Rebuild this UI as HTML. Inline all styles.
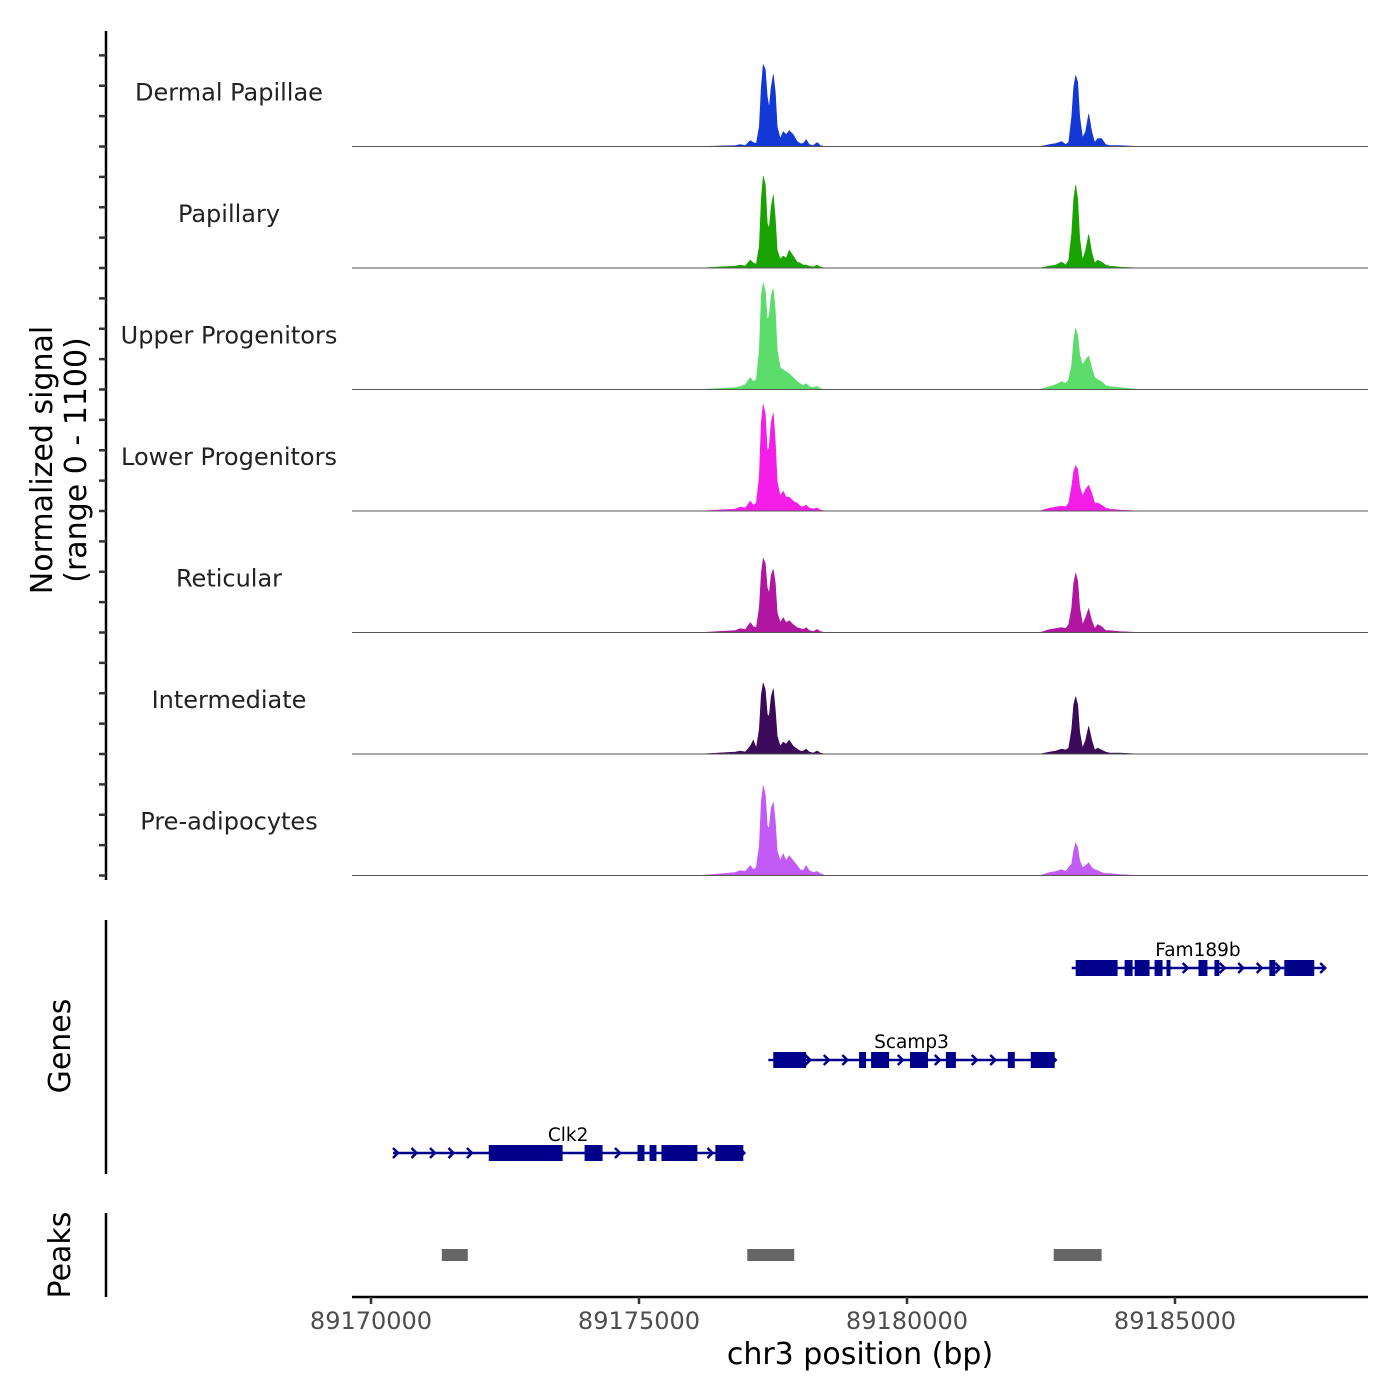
<!DOCTYPE html>
<html><head><meta charset="utf-8"><style>
html,body{margin:0;padding:0;background:#fff}
svg{display:block;font-family:"DejaVu Sans","Liberation Sans",sans-serif}
</style></head><body>
<svg id="chart" width="1400" height="1400" viewBox="0 0 1400 1400"></svg>
<script>
// ---- data ----
const trackNames = ["Dermal Papillae","Papillary","Upper Progenitors","Lower Progenitors","Reticular","Intermediate","Pre-adipocytes"];
const trackColors = ["#1238d6","#19a300","#5cdc6a","#f41ee8","#b0169f","#3b0a5a","#c25af5"];
const signalPos = [89176145,89176797,89176890,89176983,89177076,89177132,89177188,89177244,89177281,89177318,89177356,89177393,89177430,89177467,89177505,89177542,89177579,89177635,89177691,89177747,89177803,89177877,89177952,89178007,89178063,89178119,89178175,89178250,89178324,89178380,89178473,89178939,
89182477,89182663,89182775,89182886,89182961,89183017,89183073,89183110,89183147,89183184,89183222,89183277,89183333,89183389,89183445,89183501,89183557,89183631,89183706,89183780,89183967,89184339];
const sigDermal = [0,1,2,1,6,4,3,20,60,83,78,50,39,60,73,55,20,8,15,12,16,12,5,3,3,7,2,1,4,1,0,0, 0,2,3,5,2,4,30,60,72,65,30,9,15,33,15,4,8,8,2,1,1,0];
const sigPapillary = [0,2,3,2,8,5,4,22,70,93,85,45,40,62,74,50,18,9,12,10,18,12,6,5,3,3,2,1,3,1,0,0, 0,2,3,6,3,8,35,70,84,70,30,8,18,34,16,5,8,6,3,2,1,0];
const sigUpper = [0,2,3,5,12,8,10,40,95,108,100,70,75,95,102,80,40,22,20,18,16,12,8,6,4,6,3,2,3,1,0,0, 0,3,5,8,6,10,25,50,62,55,35,25,30,34,22,12,10,8,4,3,2,0];
const sigLower = [0,2,4,3,10,6,8,35,90,108,98,60,65,90,99,70,30,15,20,14,14,10,8,5,4,6,3,2,3,1,0,0, 0,3,4,5,4,8,25,40,46,42,25,15,22,26,18,8,8,6,3,2,1,0];
const sigReticular = [0,2,4,3,10,6,5,25,60,75,70,45,40,58,64,50,20,10,15,10,12,8,5,4,3,5,2,1,3,1,0,0, 0,3,4,5,4,8,25,50,60,52,25,8,15,24,12,4,8,6,2,2,1,0];
const sigIntermediate = [0,2,3,2,8,14,6,25,60,72,65,40,38,58,66,45,18,8,12,10,14,8,5,3,3,5,2,1,3,1,0,0, 0,2,3,5,4,6,25,50,58,50,22,6,14,28,14,4,6,4,2,1,1,0];
const sigPreadipo = [0,3,5,4,10,6,8,30,75,91,82,50,48,68,74,55,25,15,22,15,20,15,10,6,5,10,5,3,4,2,0,0, 0,3,4,6,4,8,12,25,33,28,15,8,10,13,8,6,5,3,2,2,1,0];
const signals = [sigDermal,sigPapillary,sigUpper,sigLower,sigReticular,sigIntermediate,sigPreadipo];
const xTicks = [89170000,89175000,89180000,89185000];
const geneNames = ["Fam189b","Scamp3","Clk2"];
const geneStarts = [89183073,89177412,89170410];
const geneEnds = [89187784,89182756,89176946];
const geneExonStarts = [[89183147,89184060,89184246,89184618,89184842,89185438,89185736,89186760,89187039],[89177505,89179106,89179330,89180056,89180726,89181881,89182309],[89172197,89173985,89174972,89175196,89175419,89176425]];
const geneExonEnds = [[89183929,89184209,89184525,89184767,89184916,89185605,89185829,89186871,89187598],[89178119,89179236,89179665,89180391,89180912,89182011,89182756],[89173575,89174320,89175102,89175326,89176089,89176946]];
const peakStarts = [89171322,89177020,89182737];
const peakEnds = [89171806,89177896,89183631];

// ---- scales ----
const NS="http://www.w3.org/2000/svg";
const svg=document.getElementById('chart');
const xS = bp => 371 + (bp-89170000)*0.0536;
const trackH = 121.5, firstBase = 146.5, yMax = 121;
const yS = (v,i) => firstBase + i*trackH - v/yMax*(trackH-2);
function mk(tag,attrs,parent){const e=document.createElementNS(NS,tag);for(const k in attrs)e.setAttribute(k,attrs[k]);(parent||svg).appendChild(e);return e;}

// ---- tracks ----
signals.forEach((sig,i)=>{
  const g=mk('g',{});
  
  
  const base=firstBase+i*trackH;
  let d='M352,'+base;
  sig.forEach((v,j)=>{d+=' L'+xS(signalPos[j]).toFixed(1)+','+yS(v,i).toFixed(1);});
  d+=' L1368,'+base+' Z';
  const p=mk('path',{d:d,fill:trackColors[i],stroke:trackColors[i],'stroke-width':0.6},g);
  
  
  const bl=mk('line',{x1:352,x2:1368,y1:base,y2:base,stroke:'#555','stroke-width':1},g);
  
  
  const t=mk('text',{x:229,y:base-46,'font-size':24,fill:'#222','text-anchor':'middle'},g);
  t.textContent=trackNames[i];
  
  
});

const ax=mk('line',{x1:106,x2:106,y1:31,y2:880,stroke:'#000','stroke-width':2.5});


for(let y=875.5;y>35;y-=trackH/4){
  const tk=mk('line',{x1:99,x2:106,y1:y,y2:y,stroke:'#333','stroke-width':2.5});
  
  
}
const yl=mk('text',{transform:'translate(52,460) rotate(-90)','font-size':30,'text-anchor':'middle',fill:'#000'});
yl.textContent='Normalized signal';


const yl2=mk('text',{transform:'translate(86,460) rotate(-90)','font-size':30,'text-anchor':'middle',fill:'#000'});
yl2.textContent='(range 0 - 1100)';



// ---- genes ----
const ga=mk('line',{x1:106,x2:106,y1:920,y2:1174,stroke:'#000','stroke-width':2.5});


const gt=mk('text',{transform:'translate(70,1046) rotate(-90)','font-size':30,'text-anchor':'middle'});
gt.textContent='Genes';


const geneY=[968,1060,1153];
const gc='#00008b';
geneNames.forEach((name,i)=>{
  const g=mk('g',{});
  
  
  const y=geneY[i], x0=xS(geneStarts[i]), x1=xS(geneEnds[i]);
  mk('line',{x1:x0,x2:x1,y1:y,y2:y,stroke:gc,'stroke-width':2.5},g);
  const ex=geneExonStarts[i].map((s,j)=>[xS(s),xS(geneExonEnds[i][j])]);
  for(let x=x0+4;x<=x1;x+=18.5){
    if(ex.some(e=>x>e[0]-3&&x<e[1]+3))continue;
    const c=mk('path',{d:`M${x-4},${y-5} L${x+1},${y} L${x-4},${y+5}`,fill:'none',stroke:gc,'stroke-width':2.5},g);
    
    
  }
  mk('path',{d:`M${x1-4},${y-5} L${x1+1},${y} L${x1-4},${y+5}`,fill:'none',stroke:gc,'stroke-width':2.5},g);
  ex.forEach(e=>{
    const r=mk('rect',{x:e[0],y:y-8,width:Math.max(e[1]-e[0],3),height:16,fill:gc},g);
    
    
  });
  const t=mk('text',{x:(x0+x1)/2,y:y-12,'font-size':18.5,'text-anchor':'middle',fill:'#000'},g);
  t.textContent=name;
  
  
});

// ---- peaks ----
const pa=mk('line',{x1:106,x2:106,y1:1213,y2:1297,stroke:'#000','stroke-width':2.5});


const pt=mk('text',{transform:'translate(70,1255) rotate(-90)','font-size':30,'text-anchor':'middle'});
pt.textContent='Peaks';


peakStarts.forEach((s,i)=>{
  const r=mk('rect',{x:xS(s),y:1249,width:xS(peakEnds[i])-xS(s),height:12,fill:'#666'});
  
  
});

// ---- x axis ----
const xa=mk('line',{x1:352,x2:1368,y1:1297,y2:1297,stroke:'#000','stroke-width':2.5});


xTicks.forEach(v=>{
  const x=xS(v);
  const tk=mk('line',{x1:x,x2:x,y1:1297,y2:1304,stroke:'#333','stroke-width':2.5});
  
  
  const t=mk('text',{x:x,y:1329,'font-size':24,'text-anchor':'middle',fill:'#4d4d4d'});
  t.textContent=String(v);
  
  
});
const xt=mk('text',{x:860,y:1364,'font-size':30,'text-anchor':'middle',fill:'#000'});
xt.textContent='chr3 position (bp)';


</script>
</body></html>
